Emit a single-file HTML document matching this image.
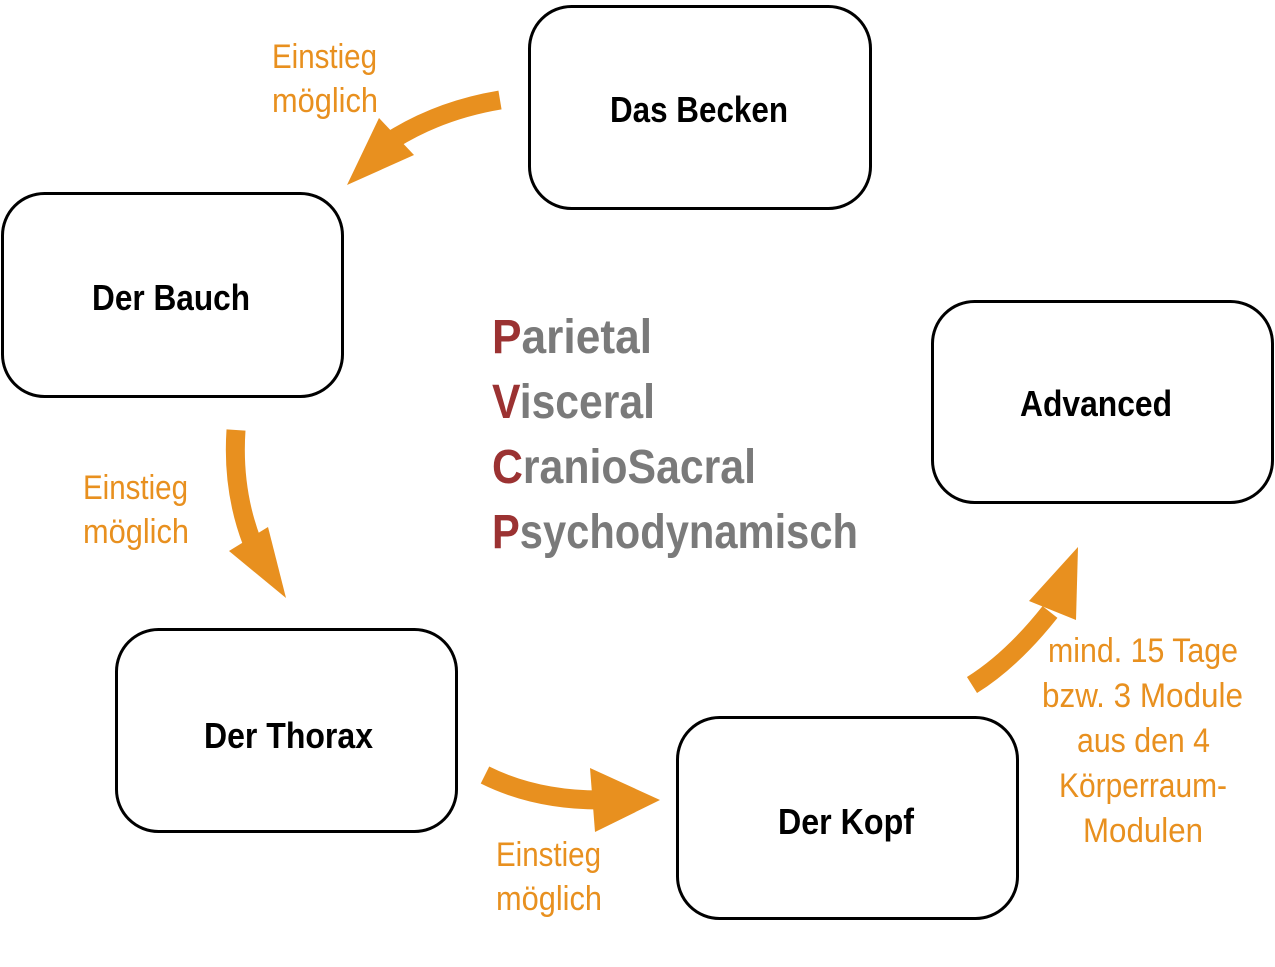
<!DOCTYPE html>
<html><head><meta charset="utf-8"><style>html,body{margin:0;padding:0;background:#fff}svg{display:block}</style></head>
<body>
<svg width="1275" height="967" viewBox="0 0 1275 967" xmlns="http://www.w3.org/2000/svg">
<g fill="#fff" stroke="#000" stroke-width="3">
<rect x="529.5" y="6.5" width="341" height="202" rx="42"/>
<rect x="2.5" y="193.5" width="340" height="203" rx="42"/>
<rect x="116.5" y="629.5" width="340" height="202" rx="42"/>
<rect x="677.5" y="717.5" width="340" height="201" rx="42"/>
<rect x="932.5" y="301.5" width="340" height="201" rx="42"/>
</g>
<g fill="none" stroke="#E8901F" stroke-width="19">
<path d="M500,100 Q440,110 392,140"/>
<path d="M236,430 Q232,490 252,542"/>
<path d="M485,775 Q535,800 600,800"/>
<path d="M972,685 Q1012,660 1050,612"/>
</g>
<g fill="#E8901F">
<polygon points="379,118 347,185 414,155"/>
<polygon points="229,551 286,598 268,527"/>
<polygon points="590,768 595,832 660,800"/>
<polygon points="1078,547 1029,601 1076,620"/>
</g>
<g font-family="Liberation Sans, sans-serif" font-weight="bold" font-size="36" fill="#000">
<text x="610" y="122" textLength="178" lengthAdjust="spacingAndGlyphs">Das Becken</text>
<text x="92" y="310" textLength="158" lengthAdjust="spacingAndGlyphs">Der Bauch</text>
<text x="204" y="748" textLength="169" lengthAdjust="spacingAndGlyphs">Der Thorax</text>
<text x="778" y="834" textLength="136" lengthAdjust="spacingAndGlyphs">Der Kopf</text>
<text x="1020" y="416" textLength="152" lengthAdjust="spacingAndGlyphs">Advanced</text>
</g>
<g font-family="Liberation Sans, sans-serif" font-weight="bold" font-size="48" fill="#7a7a7a">
<text x="492" y="353" textLength="160" lengthAdjust="spacingAndGlyphs"><tspan fill="#9B3232">P</tspan>arietal</text>
<text x="492" y="418" textLength="163" lengthAdjust="spacingAndGlyphs"><tspan fill="#9B3232">V</tspan>isceral</text>
<text x="492" y="483" textLength="264" lengthAdjust="spacingAndGlyphs"><tspan fill="#9B3232">C</tspan>ranioSacral</text>
<text x="492" y="548" textLength="366" lengthAdjust="spacingAndGlyphs"><tspan fill="#9B3232">P</tspan>sychodynamisch</text>
</g>
<g font-family="Liberation Sans, sans-serif" font-size="34" fill="#E8901F">
<text x="272" y="68" textLength="105" lengthAdjust="spacingAndGlyphs">Einstieg</text>
<text x="272" y="112" textLength="106" lengthAdjust="spacingAndGlyphs">möglich</text>
<text x="83" y="499" textLength="105" lengthAdjust="spacingAndGlyphs">Einstieg</text>
<text x="83" y="543" textLength="106" lengthAdjust="spacingAndGlyphs">möglich</text>
<text x="496" y="866" textLength="105" lengthAdjust="spacingAndGlyphs">Einstieg</text>
<text x="496" y="910" textLength="106" lengthAdjust="spacingAndGlyphs">möglich</text>
<text x="1048" y="662" textLength="190" lengthAdjust="spacingAndGlyphs">mind. 15 Tage</text>
<text x="1042" y="707" textLength="201" lengthAdjust="spacingAndGlyphs">bzw. 3 Module</text>
<text x="1077" y="752" textLength="133" lengthAdjust="spacingAndGlyphs">aus den 4</text>
<text x="1059" y="797" textLength="168" lengthAdjust="spacingAndGlyphs">Körperraum-</text>
<text x="1083" y="842" textLength="120" lengthAdjust="spacingAndGlyphs">Modulen</text>
</g>
</svg>
</body></html>
